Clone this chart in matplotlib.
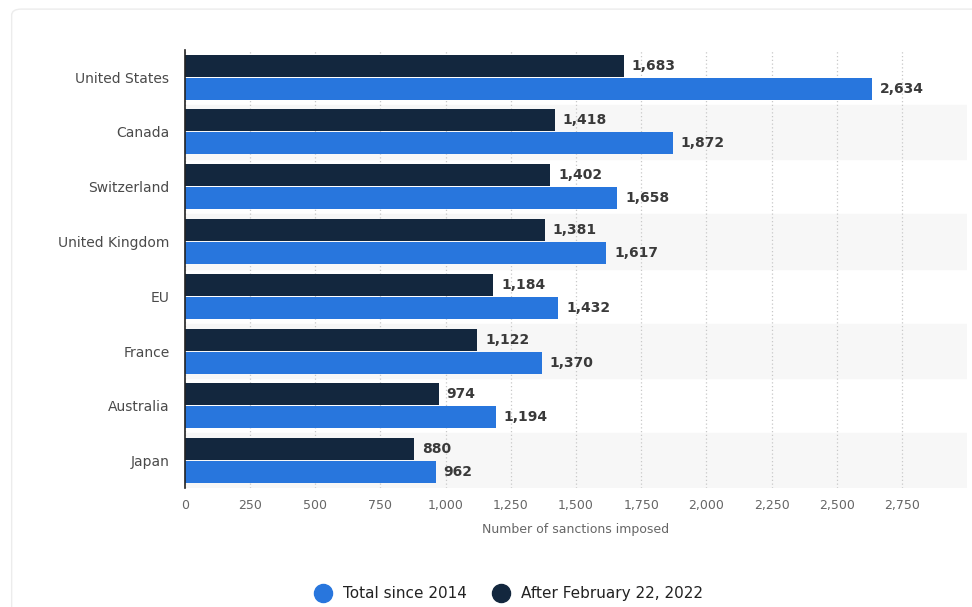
import numpy as np
import matplotlib.pyplot as plt
from matplotlib.patches import FancyBboxPatch
from matplotlib.lines import Line2D

countries = ["United States", "Canada", "Switzerland", "United Kingdom",
             "EU", "France", "Australia", "Japan"]
total_since_2014 = [2634, 1872, 1658, 1617, 1432, 1370, 1194, 962]
after_feb_2022 = [1683, 1418, 1402, 1381, 1184, 1122, 974, 880]
xticks = np.arange(0, 3000, 250)

BLUE = "#2876dd"
NAVY = "#13273e"

fig = plt.figure(figsize=(9.72, 6.07), dpi=100)
fig.patch.set_facecolor("white")
# light rounded card behind everything
card = FancyBboxPatch((0.012, -0.05), 1.2, 1.035, boxstyle="round,pad=0,rounding_size=0.01",
                      transform=fig.transFigure, facecolor="white", edgecolor="#ececec",
                      lw=1, zorder=-10)
fig.patches.append(card)

ax = fig.add_axes([0.190, 0.196, 0.805, 0.722])
ax.set_facecolor("none")

y = np.arange(len(countries))
h = 0.40
ax.barh(y - h / 2 - 0.01, after_feb_2022, height=h, color=NAVY, zorder=3)
ax.barh(y + h / 2 + 0.01, total_since_2014, height=h, color=BLUE, zorder=3)

for i in range(len(countries)):
    if i % 2 == 1:
        ax.axhspan(i - 0.5, i + 0.5, color="#f7f7f7", zorder=0)

for i, (a, t) in enumerate(zip(after_feb_2022, total_since_2014)):
    ax.text(a + 30, i - h / 2 - 0.01, f"{a:,}", va="center", ha="left",
            fontsize=10, color="#3a3a3a", fontweight="bold", zorder=4)
    ax.text(t + 30, i + h / 2 + 0.01, f"{t:,}", va="center", ha="left",
            fontsize=10, color="#3a3a3a", fontweight="bold", zorder=4)

ax.set_ylim(len(countries) - 0.5, -0.5)
ax.set_xlim(0, 3000)
ax.set_yticks(y)
ax.set_yticklabels(countries, fontsize=10, color="#4a4a4a")
ax.set_xticks(xticks)
ax.set_xticklabels([f"{v:,}" for v in xticks], fontsize=9, color="#666666")
ax.tick_params(axis="both", length=0, pad=8)
ax.tick_params(axis="y", pad=11)
ax.set_xlabel("Number of sanctions imposed", fontsize=9, color="#666666", labelpad=8)

ax.grid(axis="x", linestyle=(0, (1, 2)), color="#c8c8c8", lw=0.9, zorder=1)
for s in ["top", "right", "bottom"]:
    ax.spines[s].set_visible(False)
ax.spines["left"].set_color("#222222")
ax.spines["left"].set_linewidth(1.2)
ax.spines["left"].set_zorder(5)

handles = [Line2D([], [], marker="o", ls="", markersize=13, color=BLUE),
           Line2D([], [], marker="o", ls="", markersize=13, color=NAVY)]
fig.legend(handles, ["Total since 2014", "After February 22, 2022"],
           loc="center", bbox_to_anchor=(0.52, 0.022), ncol=2, frameon=False,
           fontsize=11, handletextpad=0.3, columnspacing=1.2, labelcolor="#222222")

fig.savefig("out.png", dpi=100)
